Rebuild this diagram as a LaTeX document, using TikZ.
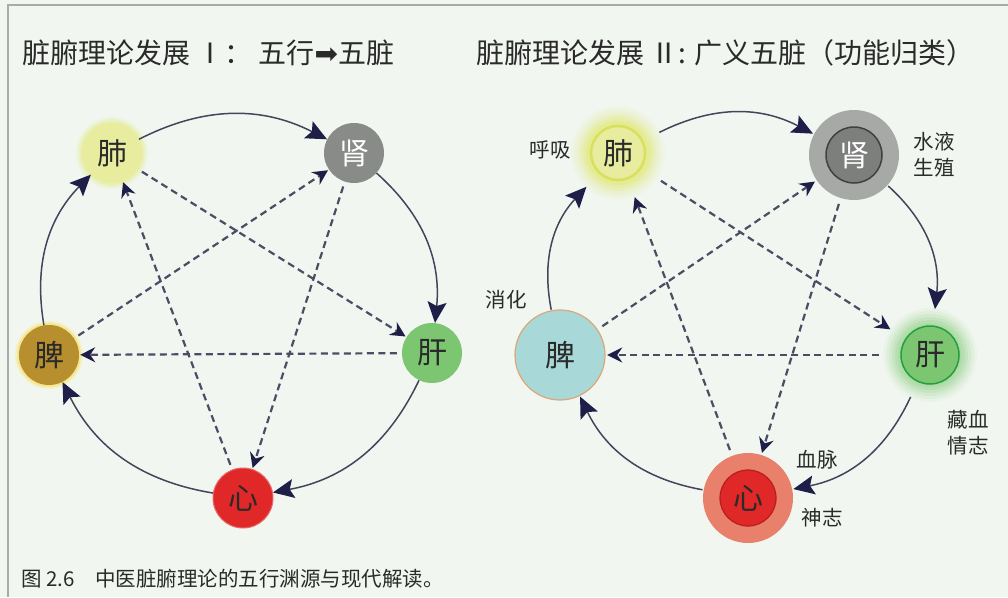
\documentclass[tikz,border=0pt]{standalone}
\usepackage{fontspec}
\setmainfont{Noto Sans CJK SC}
\newfontfamily\djv{DejaVu Sans}
\usetikzlibrary{arrows.meta}
\definecolor{bg}{HTML}{F1F7F0}
\definecolor{framec}{HTML}{A8ABA8}
\definecolor{arr}{HTML}{1E1E48}
\definecolor{linec}{HTML}{44445C}
\definecolor{dashc}{HTML}{4C4C64}
\definecolor{txt}{HTML}{2A2A2A}
\definecolor{fei}{HTML}{E8EC9E}
\definecolor{feiglow}{HTML}{E2EA78}
\definecolor{feiring}{HTML}{D6DE4E}
\definecolor{shen}{HTML}{898B89}
\definecolor{shenout}{HTML}{A6A9A6}
\definecolor{shenin}{HTML}{7D7F7D}
\definecolor{gan}{HTML}{7CC672}
\definecolor{ganglow}{HTML}{A6D89E}
\definecolor{ganring}{HTML}{22A03C}
\definecolor{xin}{HTML}{E02828}
\definecolor{xinout}{HTML}{E8806C}
\definecolor{xinring}{HTML}{B81C1C}
\definecolor{pi}{HTML}{B88F2E}
\definecolor{piR}{HTML}{A9D8D8}
\definecolor{piring}{HTML}{D9A878}
\begin{document}
\begin{tikzpicture}[x=1pt,y=-1pt,
  solidarc/.style={draw=linec, line width=1.5pt, -{Stealth[length=21pt,width=19pt,inset=4pt,color=arr]}, bend left=27},
  dasharr/.style={draw=dashc, line width=2.2pt, dash pattern=on 7pt off 4.5pt, -{Stealth[length=15pt,width=15pt,inset=5pt,color=arr]}, shorten <=5pt, shorten >=1pt},
  organ/.style={circle, inner sep=0pt, font=\fontsize{30}{30}\selectfont, text=txt},
  lab/.style={font=\fontsize{20.5}{26}\selectfont, text=txt, align=left, inner sep=0pt},
  ttl/.style={font=\fontsize{28}{30}\selectfont, text=txt, inner sep=0pt, anchor=west}
]
\useasboundingbox (0,0) rectangle (1008,597);
\fill[bg] (0,0) rectangle (1008,597);
\draw[framec, line width=1.5pt] (1008,5) -- (8,5) -- (8,597);

% titles
\node[ttl] (t1) at (22,53) {脏腑理论发展 Ⅰ： 五行{\djv ➡}五脏};
\node[ttl] (t2) at (476,53) {脏腑理论发展 Ⅱ: 广义五脏（功能归类）};
\node[font=\fontsize{20.5}{22}\selectfont, text=txt, inner sep=0pt, anchor=west] (cap) at (21,579) {图 2.6　中医脏腑理论的五行渊源与现代解读。};

% ---------- left diagram ----------
\foreach \r/\o in {36/0.15,34/0.2,32/0.3} \fill[feiglow, opacity=\o] (112,153) circle (\r);
\foreach \r/\o in {34/0.15,32/0.3} \fill[yellow!70!orange, opacity=\o] (49,355) circle (\r);
\node[organ, minimum size=60pt, fill=fei] (Lfei) at (112,153) {肺};
\node[organ, minimum size=60pt, fill=shen, text=white] (Lshen) at (354,153) {肾};
\node[organ, minimum size=60pt, fill=gan] (Lgan) at (432,353) {肝};
\node[organ, minimum size=60pt, fill=xin, draw=xin!70!white, line width=1pt] (Lxin) at (243,498) {心};
\node[organ, minimum size=60pt, fill=pi] (Lpi) at (49,355) {脾};

\draw[solidarc] (Lfei) to (Lshen);
\draw[solidarc] (Lshen) to (Lgan);
\draw[solidarc] (Lgan) to (Lxin);
\draw[solidarc] (Lxin) to (Lpi);
\draw[solidarc] (Lpi) to (Lfei);

\draw[dasharr] (Lfei) -- (Lgan);
\draw[dasharr] (Lgan) -- (Lpi);
\draw[dasharr] (Lpi) -- (Lshen);
\draw[dasharr] (Lshen) -- (Lxin);
\draw[dasharr] (Lxin) -- (Lfei);

% ---------- right diagram ----------
% lung
\foreach \r/\o in {47/0.08,44/0.1,41/0.14,38/0.2,35/0.3,32/0.4} \fill[feiglow, opacity=\o] (618,153) circle (\r);
\fill[fei] (618,153) circle (27);
\draw[feiring, line width=2.5pt, opacity=0.8] (618,153) circle (27);
% kidney
\fill[shenout] (854,155) circle (45);
\fill[shenin] (854,155) circle (28);
\draw[black!75, line width=1.5pt] (854,155) circle (28);
% liver
\foreach \r/\o in {47/0.1,44/0.14,41/0.2,38/0.3,35/0.4,32/0.5} \fill[ganglow, opacity=\o] (930,355) circle (\r);
\fill[gan] (930,355) circle (29);
\draw[ganring, line width=1.5pt] (930,355) circle (29);
% heart
\fill[xinout] (748,498) circle (45);
\fill[xin] (748,498) circle (28);
\draw[xinring, line width=1.2pt] (748,498) circle (28);
% spleen
\fill[piR] (560,355) circle (45);
\draw[piring, line width=1.2pt] (560,355) circle (45);

\node[organ, minimum size=92pt] (Rfei) at (618,153) {肺};
\node[organ, minimum size=92pt, text=white] (Rshen) at (854,155) {肾};
\node[organ, minimum size=92pt] (Rgan) at (930,355) {肝};
\node[organ, minimum size=92pt] (Rxin) at (748,498) {心};
\node[organ, minimum size=92pt] (Rpi) at (560,355) {脾};

\draw[solidarc] (Rfei) to (Rshen);
\draw[solidarc] (Rshen) to (Rgan);
\draw[solidarc] (Rgan) to (Rxin);
\draw[solidarc] (Rxin) to (Rpi);
\draw[solidarc] (Rpi) to (Rfei);

\draw[dasharr] (Rfei) -- (Rgan);
\draw[dasharr] (Rgan) -- (Rpi);
\draw[dasharr] (Rpi) -- (Rshen);
\draw[dasharr] (Rshen) -- (Rxin);
\draw[dasharr] (Rxin) -- (Rfei);

% labels
\node[lab] (l1) at (550,150) {呼吸};
\node[lab] (l2) at (934,155) {水液\\生殖};
\node[lab] (l3) at (506,300) {消化};
\node[lab] (l4) at (968,433) {藏血\\情志};
\node[lab] (l5) at (817,460) {血脉};
\node[lab] (l6) at (822,518) {神志};
\end{tikzpicture}
\end{document}
